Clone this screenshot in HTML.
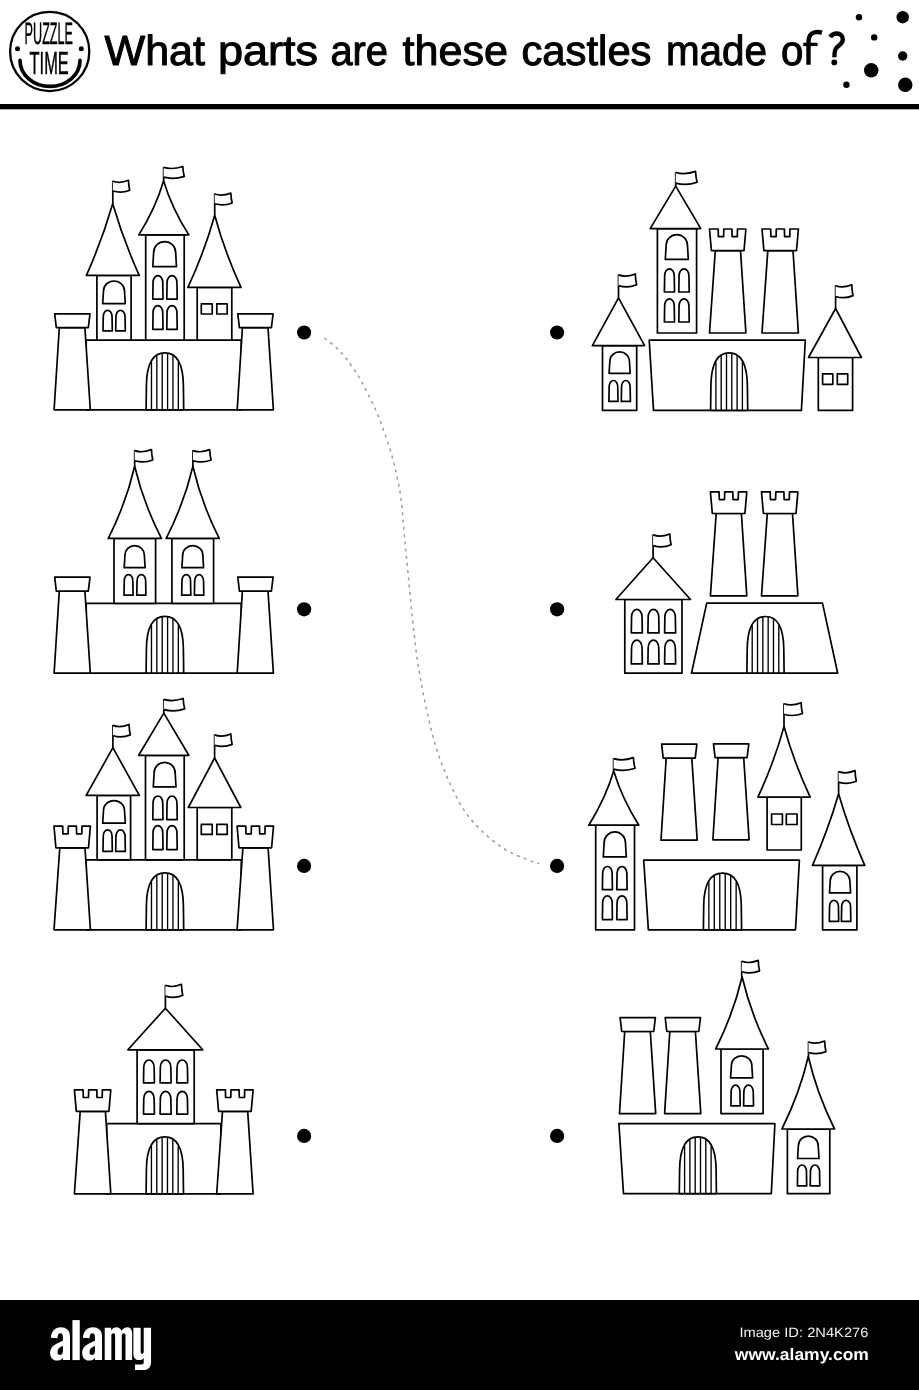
<!DOCTYPE html>
<html><head><meta charset="utf-8"><title>What parts are these castles made of?</title>
<style>
html,body{margin:0;padding:0;background:#fff;}
body{width:919px;height:1390px;overflow:hidden;position:relative;font-family:"Liberation Sans",sans-serif;}
svg{position:absolute;left:0;top:0;display:block;will-change:transform;}
text{-webkit-font-smoothing:antialiased;text-rendering:geometricPrecision;}
</style></head><body>
<svg width="919" height="1390" viewBox="0 0 919 1390" font-family="Liberation Sans, sans-serif">
<rect x="0" y="0" width="919" height="1390" fill="#fff"/>
<!-- header -->
<g id="logo">
<circle cx="49.7" cy="51.5" r="39.6" fill="#fff" stroke="#000" stroke-width="2.3"/>
<circle cx="17.5" cy="48.8" r="2.5" fill="#000"/><circle cx="81.3" cy="48.8" r="2.5" fill="#000"/>
<path d="M20,60.4 A30,26 0 0 0 80,60.4" fill="none" stroke="#000" stroke-width="3.7" stroke-linecap="round"/>
<g fill="#000" stroke="#000" stroke-width="0.5">
<text x="24.6" y="44.2" font-size="31" textLength="48.4" lengthAdjust="spacingAndGlyphs">PUZZLE</text>
<text x="29.6" y="74.2" font-size="32" textLength="39.2" lengthAdjust="spacingAndGlyphs">TIME</text>
</g>
</g>
<g font-size="42" fill="#000" stroke="#000" stroke-width="1.0" stroke-linejoin="round">
<text x="104.49" y="64.5" textLength="100.51" lengthAdjust="spacingAndGlyphs">What</text>
<text x="217.94" y="64.5" textLength="100.09" lengthAdjust="spacingAndGlyphs">parts</text>
<text x="330.47" y="64.5" textLength="57.55" lengthAdjust="spacingAndGlyphs">are</text>
<text x="402.49" y="64.5" textLength="105.51" lengthAdjust="spacingAndGlyphs">these</text>
<text x="521.48" y="64.5" textLength="130.05" lengthAdjust="spacingAndGlyphs">castles</text>
<text x="665.92" y="64.5" textLength="101.11" lengthAdjust="spacingAndGlyphs">made</text>
<text x="780.9" y="64.5" textLength="22.3" lengthAdjust="spacingAndGlyphs">o</text>
</g>
<g fill="none" stroke="#000" stroke-width="4.4" stroke-linecap="butt" stroke-linejoin="round">
<path d="M822,32.7 C819,31.8 816.5,31.9 814.5,32.3 C810.5,33.2 808.5,36.5 808.5,41.8 L808.5,64.8"/>
<path d="M803.3,44.4 L817.6,44.4" stroke-width="3.4"/>
<path d="M830.2,37 C832,34.2 834.5,33.5 836.8,33.5 C840.5,33.5 842.8,36 842.8,39.6 C842.8,43.5 839,45.5 836.6,47.6 C834.8,49.2 834.4,51 834.4,57.3"/>
</g>
<circle cx="834.3" cy="62.4" r="2.9" fill="#000"/>
<rect x="0" y="104" width="919" height="5.3" fill="#000"/>
<path d="M324.4,338 C326.35,339.58 332.52,344.12 336.1,347.5 C339.68,350.88 342.22,353.57 345.9,358.3 C349.58,363.03 354.42,369.72 358.2,375.9 C361.98,382.08 365.32,388.85 368.6,395.4 C371.88,401.95 375.1,408.52 377.9,415.2 C380.7,421.88 383.05,428.68 385.4,435.5 C387.75,442.32 390.07,449.18 392,456.1 C393.93,463.02 395.5,469.9 397,477 C398.5,484.1 399.66,487.78 401,498.7 C402.34,509.62 403.8,529.28 405.05,542.5 C406.3,555.72 407.34,566.03 408.5,578 C409.66,589.97 410.73,602.2 412,614.3 C413.27,626.4 414.8,640.48 416.1,650.6 C417.4,660.72 418.13,665.53 419.8,675 C421.47,684.47 423.6,696.05 426.1,707.4 C428.6,718.75 431.32,731.48 434.8,743.1 C438.28,754.72 442.22,766.07 447,777.1 C451.78,788.13 457.7,800.32 463.5,809.3 C469.3,818.28 474.97,824.38 481.8,831 C488.63,837.62 497.25,844.35 504.5,849 C511.75,853.65 519.5,856.47 525.3,858.9 C531.1,861.33 536.97,862.82 539.3,863.6" fill="none" stroke="#9c9c9c" stroke-width="1.5" stroke-dasharray="3 4.25"/>
<circle cx="304.1" cy="332.5" r="7.1" fill="#000" stroke="none"/>
<circle cx="557.1" cy="332.5" r="7.1" fill="#000" stroke="none"/>
<circle cx="304.1" cy="609.3" r="7.1" fill="#000" stroke="none"/>
<circle cx="557.1" cy="609.3" r="7.1" fill="#000" stroke="none"/>
<circle cx="304.1" cy="865.9" r="7.1" fill="#000" stroke="none"/>
<circle cx="557.1" cy="865.9" r="7.1" fill="#000" stroke="none"/>
<circle cx="304.1" cy="1135.9" r="7.1" fill="#000" stroke="none"/>
<circle cx="557.1" cy="1135.9" r="7.1" fill="#000" stroke="none"/>
<circle cx="859" cy="17.2" r="3.2" fill="#000" stroke="none"/>
<circle cx="902.7" cy="17.2" r="6.2" fill="#000" stroke="none"/>
<circle cx="874.2" cy="37.4" r="3.2" fill="#000" stroke="none"/>
<circle cx="902.7" cy="56" r="4.7" fill="#000" stroke="none"/>
<circle cx="871.2" cy="70.3" r="7.2" fill="#000" stroke="none"/>
<circle cx="846.4" cy="84.8" r="3.2" fill="#000" stroke="none"/>
<circle cx="905.3" cy="84.8" r="7.2" fill="#000" stroke="none"/>
<g fill="#fff" stroke="#000" stroke-width="1.7" stroke-linejoin="round" stroke-linecap="butt">
<polygon points="86.2,340.2 241.3,340.2 241.3,409.8 86.2,409.8"/>
<path d="M146.1,409.8 L146.4,385.9 C146.6,362.57 153.24,352.9 164.9,352.9 C176.56,352.9 183.2,362.57 183.4,385.9 L183.7,409.8 Z"/>
<line x1="151.47" y1="361.95" x2="151.47" y2="409.8" stroke-width="1.35"/>
<line x1="156.84" y1="355.43" x2="156.84" y2="409.8" stroke-width="1.35"/>
<line x1="162.21" y1="353.1" x2="162.21" y2="409.8" stroke-width="1.35"/>
<line x1="167.59" y1="353.1" x2="167.59" y2="409.8" stroke-width="1.35"/>
<line x1="172.96" y1="355.43" x2="172.96" y2="409.8" stroke-width="1.35"/>
<line x1="178.33" y1="361.95" x2="178.33" y2="409.8" stroke-width="1.35"/>
<rect x="96.9" y="275.4" width="34.2" height="64.8"/>
<path d="M112.7,203.8 Q123.15,239.6 139.2,275.4 L86.4,275.4 Q102.35,239.6 112.7,203.8 Z"/>
<line x1="112.8" y1="203.9" x2="112.8" y2="180.8"/>
<path d="M112.8,181.2 Q119.85,183.8 128.47,180.3 Q128.63,185.7 129.73,190.2 Q121.42,193.6 112.8,191"/>
<path d="M102.7,303.6 L103.51,290.72 A10.49,9.72 0 0 1 124.49,290.72 L125.3,303.6 Z"/>
<path d="M103,330.8 L103.25,316.62 C103.25,312.7 105.42,310.3 107.65,310.3 C109.88,310.3 112.05,312.7 112.05,316.62 L112.3,330.8 Z"/>
<path d="M115.7,330.8 L115.95,316.83 C115.95,312.78 118.2,310.3 120.5,310.3 C122.8,310.3 125.05,312.78 125.05,316.83 L125.3,330.8 Z"/>
<rect x="145.7" y="234.8" width="38.5" height="105.4"/>
<path d="M163.6,180.7 Q171.6,207.8 188.8,234.9 L138.8,234.9 Q155.8,207.8 163.6,180.7 Z"/>
<line x1="163.6" y1="180.7" x2="163.6" y2="167"/>
<path d="M163.6,167.4 Q172.24,170 182.79,166.5 Q182.98,171.9 184.33,176.4 Q174.15,179.8 163.6,177.2"/>
<path d="M152.8,266.7 L153.65,252.39 A11,10.79 0 0 1 175.65,252.39 L176.5,266.7 Z"/>
<path d="M152.8,299.1 L153.05,282.54 C153.05,278.24 155.45,275.6 157.9,275.6 C160.35,275.6 162.75,278.24 162.75,282.54 L163,299.1 Z"/>
<path d="M166.8,299.1 L167.05,282.67 C167.05,278.29 169.5,275.6 172,275.6 C174.5,275.6 176.95,278.29 176.95,282.67 L177.2,299.1 Z"/>
<path d="M152.8,329.3 L153.05,312.64 C153.05,308.34 155.45,305.7 157.9,305.7 C160.35,305.7 162.75,308.34 162.75,312.64 L163,329.3 Z"/>
<path d="M166.8,329.3 L167.05,312.77 C167.05,308.39 169.5,305.7 172,305.7 C174.5,305.7 176.95,308.39 176.95,312.77 L177.2,329.3 Z"/>
<rect x="197.2" y="287.4" width="34.6" height="52.8"/>
<path d="M214.7,215.2 Q224.45,251.3 241,287.4 L187.9,287.4 Q204.7,251.3 214.7,215.2 Z"/>
<line x1="214.7" y1="215.2" x2="214.7" y2="193.6"/>
<path d="M214.7,194 Q221.97,196.6 230.85,193.1 Q231.01,198.5 232.14,203 Q223.58,206.4 214.7,203.8"/>
<rect x="201.3" y="303.9" width="10.9" height="10.1"/>
<rect x="216.8" y="303.9" width="10.4" height="10.1"/>
<polygon points="59.3,327.7 84.9,327.7 90.3,409.8 54.1,409.8"/>
<polygon points="54.7,313.8 90,313.8 88.3,327.7 56.3,327.7"/>
<polygon points="242.4,327.7 268,327.7 273.4,409.8 237.2,409.8"/>
<polygon points="237.8,313.8 273.1,313.8 271.4,327.7 239.4,327.7"/>
<polygon points="86.2,603.4 241.3,603.4 241.3,673.2 86.2,673.2"/>
<path d="M146.1,673.2 L146.4,649.34 C146.6,626.06 153.24,616.4 164.9,616.4 C176.56,616.4 183.2,626.06 183.4,649.34 L183.7,673.2 Z"/>
<line x1="151.47" y1="625.44" x2="151.47" y2="673.2" stroke-width="1.35"/>
<line x1="156.84" y1="618.92" x2="156.84" y2="673.2" stroke-width="1.35"/>
<line x1="162.21" y1="616.59" x2="162.21" y2="673.2" stroke-width="1.35"/>
<line x1="167.59" y1="616.59" x2="167.59" y2="673.2" stroke-width="1.35"/>
<line x1="172.96" y1="618.92" x2="172.96" y2="673.2" stroke-width="1.35"/>
<line x1="178.33" y1="625.44" x2="178.33" y2="673.2" stroke-width="1.35"/>
<rect x="114" y="538.5" width="41.6" height="64.9"/>
<path d="M134.65,466.2 Q143.03,502.3 161.4,538.4 L108.3,538.4 Q126.47,502.3 134.65,466.2 Z"/>
<line x1="134.65" y1="466.2" x2="134.65" y2="450.2"/>
<path d="M134.65,450.6 Q142.22,453.3 151.47,449.66 Q151.63,455.28 152.81,459.96 Q143.9,463.5 134.65,460.79"/>
<path d="M124.2,567.7 L124.95,555.16 A9.7,9.46 0 0 1 144.35,555.16 L145.1,567.7 Z"/>
<path d="M124,595.2 L124.25,580.89 C124.25,577.05 126.37,574.7 128.55,574.7 C130.73,574.7 132.85,577.05 132.85,580.89 L133.1,595.2 Z"/>
<path d="M136.8,595.2 L137.05,580.89 C137.05,577.05 139.17,574.7 141.35,574.7 C143.53,574.7 145.65,577.05 145.65,580.89 L145.9,595.2 Z"/>
<rect x="171.9" y="538.5" width="41.7" height="64.9"/>
<path d="M192.9,466.2 Q201.05,502.3 219.2,538.4 L166.2,538.4 Q184.55,502.3 192.9,466.2 Z"/>
<line x1="192.9" y1="466.2" x2="192.9" y2="450.2"/>
<path d="M192.9,450.6 Q200.47,453.3 209.72,449.66 Q209.88,455.28 211.06,459.96 Q202.15,463.5 192.9,460.79"/>
<path d="M181.9,567.7 L182.68,555.16 A10.07,9.46 0 0 1 202.82,555.16 L203.6,567.7 Z"/>
<path d="M181.7,595.2 L181.95,580.89 C181.95,577.05 184.07,574.7 186.25,574.7 C188.43,574.7 190.55,577.05 190.55,580.89 L190.8,595.2 Z"/>
<path d="M194.4,595.2 L194.65,581.09 C194.65,577.13 196.84,574.7 199.1,574.7 C201.36,574.7 203.55,577.13 203.55,581.09 L203.8,595.2 Z"/>
<polygon points="59.3,591.1 84.9,591.1 90.3,673.2 54.1,673.2"/>
<polygon points="54.7,577.2 90,577.2 88.3,591.1 56.3,591.1"/>
<polygon points="242.4,591.1 268,591.1 273.4,673.2 237.2,673.2"/>
<polygon points="237.8,577.2 273.1,577.2 271.4,591.1 239.4,591.1"/>
<polygon points="86.2,859.8 241.3,859.8 241.3,929.8 86.2,929.8"/>
<path d="M146.1,929.8 L146.4,905.9 C146.6,882.57 153.24,872.9 164.9,872.9 C176.56,872.9 183.2,882.57 183.4,905.9 L183.7,929.8 Z"/>
<line x1="151.47" y1="881.95" x2="151.47" y2="929.8" stroke-width="1.35"/>
<line x1="156.84" y1="875.43" x2="156.84" y2="929.8" stroke-width="1.35"/>
<line x1="162.21" y1="873.1" x2="162.21" y2="929.8" stroke-width="1.35"/>
<line x1="167.59" y1="873.1" x2="167.59" y2="929.8" stroke-width="1.35"/>
<line x1="172.96" y1="875.43" x2="172.96" y2="929.8" stroke-width="1.35"/>
<line x1="178.33" y1="881.95" x2="178.33" y2="929.8" stroke-width="1.35"/>
<rect x="97.1" y="795.3" width="33.5" height="64.5"/>
<polygon points="112.9,747.7 139.3,795.3 86.2,795.3"/>
<line x1="112.9" y1="747.7" x2="112.9" y2="725"/>
<path d="M112.9,725.4 Q120.17,728.13 129.05,724.45 Q129.21,730.12 130.34,734.85 Q121.78,738.42 112.9,735.69"/>
<path d="M102.7,823.2 L103.51,810.32 A10.49,9.72 0 0 1 124.49,810.32 L125.3,823.2 Z"/>
<path d="M103,851.3 L103.25,836.22 C103.25,832.3 105.42,829.9 107.65,829.9 C109.88,829.9 112.05,832.3 112.05,836.22 L112.3,851.3 Z"/>
<path d="M115.7,851.3 L115.95,836.43 C115.95,832.38 118.2,829.9 120.5,829.9 C122.8,829.9 125.05,832.38 125.05,836.43 L125.3,851.3 Z"/>
<rect x="145.5" y="755.3" width="38.7" height="104.5"/>
<polygon points="163.8,713.1 188.8,755.3 138.7,755.3"/>
<line x1="163.8" y1="713.1" x2="163.8" y2="699"/>
<path d="M163.8,699.4 Q172.52,702.13 183.18,698.45 Q183.37,704.12 184.73,708.85 Q174.46,712.42 163.8,709.69"/>
<path d="M153.3,786.9 L154.12,772.88 A10.53,10.58 0 0 1 175.18,772.88 L176,786.9 Z"/>
<path d="M152.8,819.6 L153.05,802.94 C153.05,798.64 155.45,796 157.9,796 C160.35,796 162.75,798.64 162.75,802.94 L163,819.6 Z"/>
<path d="M166.8,819.6 L167.05,803.07 C167.05,798.69 169.5,796 172,796 C174.5,796 176.95,798.69 176.95,803.07 L177.2,819.6 Z"/>
<path d="M152.8,849.6 L153.05,832.54 C153.05,828.24 155.45,825.6 157.9,825.6 C160.35,825.6 162.75,828.24 162.75,832.54 L163,849.6 Z"/>
<path d="M166.8,849.6 L167.05,832.67 C167.05,828.29 169.5,825.6 172,825.6 C174.5,825.6 176.95,828.29 176.95,832.67 L177.2,849.6 Z"/>
<rect x="197.2" y="807.5" width="34.6" height="52.3"/>
<polygon points="214.6,758 240.8,807.5 188.3,807.5"/>
<line x1="214.6" y1="758" x2="214.6" y2="734.5"/>
<path d="M214.6,734.9 Q221.91,737.63 230.84,733.95 Q231.01,739.62 232.14,744.35 Q223.53,747.92 214.6,745.19"/>
<rect x="201.3" y="824.3" width="10.9" height="10.1"/>
<rect x="216.8" y="824.3" width="10.4" height="10.1"/>
<polygon points="59.8,847.8 85,847.8 90.4,929.8 54,929.8"/>
<polygon points="54,826.2 62.7,826.2 62.9,833.9 68.1,833.9 68.3,826.2 76.4,826.2 76.6,833.9 81.8,833.9 82,826.2 90.4,826.2 88.5,847.8 55.9,847.8"/>
<polygon points="242.9,847.8 268.1,847.8 273.5,929.8 237.1,929.8"/>
<polygon points="237.1,826.2 245.8,826.2 246,833.9 251.2,833.9 251.4,826.2 259.5,826.2 259.7,833.9 264.9,833.9 265.1,826.2 273.5,826.2 271.6,847.8 239,847.8"/>
<polygon points="106.6,1123.6 220.9,1123.6 220.9,1193.8 106.6,1193.8"/>
<path d="M146.1,1193.8 L146.4,1169.9 C146.6,1146.57 153.21,1136.9 164.8,1136.9 C176.39,1136.9 183,1146.57 183.2,1169.9 L183.5,1193.8 Z"/>
<line x1="151.44" y1="1145.95" x2="151.44" y2="1193.8" stroke-width="1.35"/>
<line x1="156.79" y1="1139.43" x2="156.79" y2="1193.8" stroke-width="1.35"/>
<line x1="162.13" y1="1137.1" x2="162.13" y2="1193.8" stroke-width="1.35"/>
<line x1="167.47" y1="1137.1" x2="167.47" y2="1193.8" stroke-width="1.35"/>
<line x1="172.81" y1="1139.43" x2="172.81" y2="1193.8" stroke-width="1.35"/>
<line x1="178.16" y1="1145.95" x2="178.16" y2="1193.8" stroke-width="1.35"/>
<rect x="137.1" y="1049.8" width="57.1" height="73.8"/>
<polygon points="165.4,1008.2 202.7,1049.8 127.9,1049.8"/>
<line x1="165.4" y1="1008.2" x2="165.4" y2="984.9"/>
<path d="M165.4,985.3 Q172.62,988.16 181.46,984.31 Q181.62,990.25 182.74,995.2 Q174.23,998.94 165.4,996.08"/>
<path d="M143.5,1082.8 L143.75,1067.41 C143.75,1062.82 146.33,1060 148.95,1060 C151.57,1060 154.15,1062.82 154.15,1067.41 L154.4,1082.8 Z"/>
<path d="M160.1,1082.8 L160.35,1067.48 C160.35,1062.84 162.96,1060 165.6,1060 C168.24,1060 170.85,1062.84 170.85,1067.48 L171.1,1082.8 Z"/>
<path d="M176.8,1082.8 L177.05,1067.41 C177.05,1062.82 179.63,1060 182.25,1060 C184.87,1060 187.45,1062.82 187.45,1067.41 L187.7,1082.8 Z"/>
<path d="M143.5,1114.1 L143.75,1098.81 C143.75,1094.22 146.33,1091.4 148.95,1091.4 C151.57,1091.4 154.15,1094.22 154.15,1098.81 L154.4,1114.1 Z"/>
<path d="M160.1,1114.1 L160.35,1098.88 C160.35,1094.24 162.96,1091.4 165.6,1091.4 C168.24,1091.4 170.85,1094.24 170.85,1098.88 L171.1,1114.1 Z"/>
<path d="M176.8,1114.1 L177.05,1098.81 C177.05,1094.22 179.63,1091.4 182.25,1091.4 C184.87,1091.4 187.45,1094.22 187.45,1098.81 L187.7,1114.1 Z"/>
<polygon points="80.2,1111.4 105.4,1111.4 110.8,1193.8 74.4,1193.8"/>
<polygon points="74.4,1089.8 83.1,1089.8 83.3,1097.5 88.5,1097.5 88.7,1089.8 96.8,1089.8 97,1097.5 102.2,1097.5 102.4,1089.8 110.8,1089.8 108.9,1111.4 76.3,1111.4"/>
<polygon points="222.5,1111.4 247.7,1111.4 253.1,1193.8 216.7,1193.8"/>
<polygon points="216.7,1089.8 225.4,1089.8 225.6,1097.5 230.8,1097.5 231,1089.8 239.1,1089.8 239.3,1097.5 244.5,1097.5 244.7,1089.8 253.1,1089.8 251.2,1111.4 218.6,1111.4"/>
<rect x="602.5" y="345.7" width="34.2" height="64.7"/>
<polygon points="618.5,297.8 644.6,345.7 592.4,345.7"/>
<line x1="618.5" y1="297.8" x2="618.5" y2="274.5"/>
<path d="M618.5,274.9 Q626.07,277.76 635.32,273.91 Q635.48,279.85 636.66,284.8 Q627.75,288.54 618.5,285.68"/>
<path d="M609.1,373.3 L609.86,361.05 A9.79,9.24 0 0 1 629.44,361.05 L630.2,373.3 Z"/>
<path d="M608.9,401.4 L609.15,386.69 C609.15,382.85 611.27,380.5 613.45,380.5 C615.63,380.5 617.75,382.85 617.75,386.69 L618,401.4 Z"/>
<path d="M621.3,401.4 L621.55,386.69 C621.55,382.85 623.67,380.5 625.85,380.5 C628.03,380.5 630.15,382.85 630.15,386.69 L630.4,401.4 Z"/>
<rect x="657.4" y="228.6" width="39.2" height="104.4"/>
<polygon points="675.7,186.1 700.8,228.6 650.2,228.6"/>
<line x1="675.7" y1="186.1" x2="675.7" y2="172"/>
<path d="M675.7,172.4 Q684.63,175.26 695.56,171.41 Q695.75,177.35 697.14,182.3 Q686.62,186.04 675.7,183.18"/>
<path d="M665.3,259.4 L666.13,245.26 A10.67,10.66 0 0 1 687.47,245.26 L688.3,259.4 Z"/>
<path d="M664.4,292 L664.65,275.77 C664.65,271.51 667.03,268.9 669.45,268.9 C671.87,268.9 674.25,271.51 674.25,275.77 L674.5,292 Z"/>
<path d="M678.8,292 L679.05,275.97 C679.05,271.59 681.5,268.9 684,268.9 C686.5,268.9 688.95,271.59 688.95,275.97 L689.2,292 Z"/>
<path d="M664.4,322 L664.65,305.77 C664.65,301.51 667.03,298.9 669.45,298.9 C671.87,298.9 674.25,301.51 674.25,305.77 L674.5,322 Z"/>
<path d="M678.8,322 L679.05,305.97 C679.05,301.59 681.5,298.9 684,298.9 C686.5,298.9 688.95,301.59 688.95,305.97 L689.2,322 Z"/>
<polygon points="715.3,250.6 740.5,250.6 745.9,333 709.5,333"/>
<polygon points="709.5,229 718.2,229 718.4,236.7 723.6,236.7 723.8,229 731.9,229 732.1,236.7 737.3,236.7 737.5,229 745.9,229 744,250.6 711.4,250.6"/>
<polygon points="767.8,250.6 793,250.6 798.4,333 762,333"/>
<polygon points="762,229 770.7,229 770.9,236.7 776.1,236.7 776.3,229 784.4,229 784.6,236.7 789.8,236.7 790,229 798.4,229 796.5,250.6 763.9,250.6"/>
<polygon points="649.2,340.2 805.3,340.2 801.4,410.4 653.5,410.4"/>
<path d="M710.6,410.4 L710.9,386.25 C711.1,362.68 717.65,352.9 729.15,352.9 C740.65,352.9 747.2,362.68 747.4,386.25 L747.7,410.4 Z"/>
<line x1="715.9" y1="362.05" x2="715.9" y2="410.4" stroke-width="1.35"/>
<line x1="721.2" y1="355.45" x2="721.2" y2="410.4" stroke-width="1.35"/>
<line x1="726.5" y1="353.1" x2="726.5" y2="410.4" stroke-width="1.35"/>
<line x1="731.8" y1="353.1" x2="731.8" y2="410.4" stroke-width="1.35"/>
<line x1="737.1" y1="355.45" x2="737.1" y2="410.4" stroke-width="1.35"/>
<line x1="742.4" y1="362.05" x2="742.4" y2="410.4" stroke-width="1.35"/>
<rect x="818.3" y="357.5" width="34.3" height="52.9"/>
<polygon points="835.6,308.5 861.4,357.5 808.5,357.5"/>
<line x1="835.6" y1="308.5" x2="835.6" y2="285.3"/>
<path d="M835.6,285.7 Q842.87,288.56 851.75,284.71 Q851.91,290.65 853.04,295.6 Q844.48,299.34 835.6,296.48"/>
<rect x="822.6" y="373.8" width="10.2" height="10.5"/>
<rect x="837.3" y="373.8" width="10.4" height="10.5"/>
<polygon points="716.2,513.5 741.4,513.5 746.8,595.9 710.4,595.9"/>
<polygon points="710.4,491.9 719.1,491.9 719.3,499.6 724.5,499.6 724.7,491.9 732.8,491.9 733,499.6 738.2,499.6 738.4,491.9 746.8,491.9 744.9,513.5 712.3,513.5"/>
<polygon points="767.3,513.5 792.5,513.5 797.9,595.9 761.5,595.9"/>
<polygon points="761.5,491.9 770.2,491.9 770.4,499.6 775.6,499.6 775.8,491.9 783.9,491.9 784.1,499.6 789.3,499.6 789.5,491.9 797.9,491.9 796,513.5 763.4,513.5"/>
<rect x="624.8" y="599.5" width="57.2" height="73.7"/>
<polygon points="653.1,557.8 690.5,599.5 615.9,599.5"/>
<line x1="653.1" y1="557.8" x2="653.1" y2="534.5"/>
<path d="M653.1,534.9 Q660.62,537.76 669.82,533.91 Q669.99,539.85 671.16,544.8 Q662.3,548.54 653.1,545.68"/>
<path d="M631.3,632.8 L631.55,616.88 C631.55,612.24 634.16,609.4 636.8,609.4 C639.44,609.4 642.05,612.24 642.05,616.88 L642.3,632.8 Z"/>
<path d="M647.9,632.8 L648.15,616.95 C648.15,612.27 650.79,609.4 653.45,609.4 C656.11,609.4 658.75,612.27 658.75,616.95 L659,632.8 Z"/>
<path d="M664.6,632.8 L664.85,616.88 C664.85,612.24 667.46,609.4 670.1,609.4 C672.74,609.4 675.35,612.24 675.35,616.88 L675.6,632.8 Z"/>
<path d="M631.3,663.9 L631.55,647.68 C631.55,643.04 634.16,640.2 636.8,640.2 C639.44,640.2 642.05,643.04 642.05,647.68 L642.3,663.9 Z"/>
<path d="M647.9,663.9 L648.15,647.75 C648.15,643.07 650.79,640.2 653.45,640.2 C656.11,640.2 658.75,643.07 658.75,647.75 L659,663.9 Z"/>
<path d="M664.6,663.9 L664.85,647.68 C664.85,643.04 667.46,640.2 670.1,640.2 C672.74,640.2 675.35,643.04 675.35,647.68 L675.6,663.9 Z"/>
<polygon points="706.7,603.1 822.5,603.1 837.7,673.2 691.5,673.2"/>
<path d="M746.9,673.2 L747.2,649.39 C747.4,626.14 753.97,616.5 765.5,616.5 C777.03,616.5 783.6,626.14 783.8,649.39 L784.1,673.2 Z"/>
<line x1="752.21" y1="625.52" x2="752.21" y2="673.2" stroke-width="1.35"/>
<line x1="757.53" y1="619.02" x2="757.53" y2="673.2" stroke-width="1.35"/>
<line x1="762.84" y1="616.69" x2="762.84" y2="673.2" stroke-width="1.35"/>
<line x1="768.16" y1="616.69" x2="768.16" y2="673.2" stroke-width="1.35"/>
<line x1="773.47" y1="619.02" x2="773.47" y2="673.2" stroke-width="1.35"/>
<line x1="778.79" y1="625.52" x2="778.79" y2="673.2" stroke-width="1.35"/>
<rect x="595.7" y="824.8" width="38.8" height="105.1"/>
<path d="M613.7,771 Q621.85,798.1 638.8,825.2 L588.8,825.2 Q605.65,798.1 613.7,771 Z"/>
<line x1="613.6" y1="771.6" x2="613.6" y2="758.2"/>
<path d="M613.6,758.6 Q622.53,761.38 633.46,757.64 Q633.65,763.42 635.04,768.23 Q624.52,771.87 613.6,769.09"/>
<path d="M603.3,856.9 L604.13,842.65 A10.67,10.75 0 0 1 625.47,842.65 L626.3,856.9 Z"/>
<path d="M602.4,889.6 L602.65,873.3 C602.65,869.08 605,866.5 607.4,866.5 C609.8,866.5 612.15,869.08 612.15,873.3 L612.4,889.6 Z"/>
<path d="M616.8,889.6 L617.05,873.5 C617.05,869.16 619.48,866.5 621.95,866.5 C624.42,866.5 626.85,869.16 626.85,873.5 L627.1,889.6 Z"/>
<path d="M602.4,919.6 L602.65,902.7 C602.65,898.48 605,895.9 607.4,895.9 C609.8,895.9 612.15,898.48 612.15,902.7 L612.4,919.6 Z"/>
<path d="M616.8,919.6 L617.05,902.9 C617.05,898.56 619.48,895.9 621.95,895.9 C624.42,895.9 626.85,898.56 626.85,902.9 L627.1,919.6 Z"/>
<polygon points="666.2,758.1 691.8,758.1 697.2,840.2 661,840.2"/>
<polygon points="661.6,744.2 696.9,744.2 695.2,758.1 663.2,758.1"/>
<polygon points="718.1,757.7 743.7,757.7 749.1,839.8 712.9,839.8"/>
<polygon points="713.5,743.8 748.8,743.8 747.1,757.7 715.1,757.7"/>
<rect x="767.1" y="797.1" width="34.2" height="52.9"/>
<path d="M784,726.6 Q793.7,761.85 810.2,797.1 L757.9,797.1 Q774.35,761.85 784,726.6 Z"/>
<line x1="784" y1="726.6" x2="784" y2="703.3"/>
<path d="M784,703.7 Q791.7,706.51 801.1,702.73 Q801.27,708.56 802.47,713.42 Q793.4,717.09 784,714.28"/>
<rect x="771.6" y="814" width="10.8" height="10.5"/>
<rect x="786.3" y="814" width="10.8" height="10.5"/>
<polygon points="643.7,860.2 799.4,860.2 795.5,929.9 648.4,929.9"/>
<path d="M703.4,929.9 L703.7,906.04 C703.9,882.76 710.66,873.1 722.5,873.1 C734.34,873.1 741.1,882.76 741.3,906.04 L741.6,929.9 Z"/>
<line x1="708.86" y1="882.14" x2="708.86" y2="929.9" stroke-width="1.35"/>
<line x1="714.31" y1="875.62" x2="714.31" y2="929.9" stroke-width="1.35"/>
<line x1="719.77" y1="873.29" x2="719.77" y2="929.9" stroke-width="1.35"/>
<line x1="725.23" y1="873.29" x2="725.23" y2="929.9" stroke-width="1.35"/>
<line x1="730.69" y1="875.62" x2="730.69" y2="929.9" stroke-width="1.35"/>
<line x1="736.14" y1="882.14" x2="736.14" y2="929.9" stroke-width="1.35"/>
<rect x="822.6" y="865.3" width="34.3" height="64.6"/>
<path d="M838.6,793.8 Q848.85,829.55 864.7,865.3 L812.5,865.3 Q828.35,829.55 838.6,793.8 Z"/>
<line x1="838.6" y1="793.8" x2="838.6" y2="771.2"/>
<path d="M838.6,771.6 Q846,774.41 855.03,770.63 Q855.2,776.46 856.35,781.32 Q847.64,784.99 838.6,782.18"/>
<path d="M829.5,892.8 L830.26,880.6 A9.79,9.2 0 0 1 849.84,880.6 L850.6,892.8 Z"/>
<path d="M829.3,921.3 L829.55,906.79 C829.55,902.83 831.74,900.4 834,900.4 C836.26,900.4 838.45,902.83 838.45,906.79 L838.7,921.3 Z"/>
<path d="M841.4,921.3 L841.65,906.79 C841.65,902.83 843.84,900.4 846.1,900.4 C848.36,900.4 850.55,902.83 850.55,906.79 L850.8,921.3 Z"/>
<polygon points="624.7,1031.5 650.3,1031.5 655.7,1113.6 619.5,1113.6"/>
<polygon points="620.1,1017.6 655.4,1017.6 653.7,1031.5 621.7,1031.5"/>
<polygon points="669.8,1031.5 695.4,1031.5 700.8,1113.6 664.6,1113.6"/>
<polygon points="665.2,1017.6 700.5,1017.6 698.8,1031.5 666.8,1031.5"/>
<rect x="721" y="1049" width="42.1" height="64.6"/>
<path d="M742.1,976.8 Q750.45,1012.9 768.4,1049 L715.7,1049 Q733.7,1012.9 742.1,976.8 Z"/>
<line x1="741.7" y1="976.8" x2="741.7" y2="960.9"/>
<path d="M741.7,961.3 Q749.14,964.06 758.23,960.35 Q758.4,966.07 759.55,970.84 Q750.79,974.44 741.7,971.69"/>
<path d="M730.6,1077.8 L731.39,1065.32 A10.21,9.42 0 0 1 751.81,1065.32 L752.6,1077.8 Z"/>
<path d="M730.9,1105.8 L731.15,1091.52 C731.15,1087.6 733.32,1085.2 735.55,1085.2 C737.78,1085.2 739.95,1087.6 739.95,1091.52 L740.2,1105.8 Z"/>
<path d="M743.6,1105.8 L743.85,1091.93 C743.85,1087.76 746.17,1085.2 748.55,1085.2 C750.93,1085.2 753.25,1087.76 753.25,1091.93 L753.5,1105.8 Z"/>
<polygon points="618.9,1123.7 774.9,1123.7 771.3,1193.7 623.5,1193.7"/>
<path d="M679.3,1193.7 L679.6,1169.8 C679.8,1146.47 686.35,1136.8 697.85,1136.8 C709.35,1136.8 715.9,1146.47 716.1,1169.8 L716.4,1193.7 Z"/>
<line x1="684.6" y1="1145.85" x2="684.6" y2="1193.7" stroke-width="1.35"/>
<line x1="689.9" y1="1139.33" x2="689.9" y2="1193.7" stroke-width="1.35"/>
<line x1="695.2" y1="1137" x2="695.2" y2="1193.7" stroke-width="1.35"/>
<line x1="700.5" y1="1137" x2="700.5" y2="1193.7" stroke-width="1.35"/>
<line x1="705.8" y1="1139.33" x2="705.8" y2="1193.7" stroke-width="1.35"/>
<line x1="711.1" y1="1145.85" x2="711.1" y2="1193.7" stroke-width="1.35"/>
<rect x="787.4" y="1129.2" width="42.4" height="64.5"/>
<path d="M808.3,1056.5 Q816.6,1092.75 834.5,1129 L781.9,1129 Q799.9,1092.75 808.3,1056.5 Z"/>
<line x1="808.5" y1="1056.6" x2="808.5" y2="1041.6"/>
<path d="M808.5,1042 Q815.77,1044.78 824.65,1041.04 Q824.81,1046.82 825.94,1051.63 Q817.38,1055.27 808.5,1052.49"/>
<path d="M797.6,1158.5 L798.37,1145.73 A9.93,9.63 0 0 1 818.23,1145.73 L819,1158.5 Z"/>
<path d="M797.4,1185.9 L797.65,1171.32 C797.65,1167.4 799.82,1165 802.05,1165 C804.28,1165 806.45,1167.4 806.45,1171.32 L806.7,1185.9 Z"/>
<path d="M810.2,1185.9 L810.45,1171.53 C810.45,1167.48 812.7,1165 815,1165 C817.3,1165 819.55,1167.48 819.55,1171.53 L819.8,1185.9 Z"/>
</g>
<!-- footer -->
<rect x="0" y="1300" width="919" height="90" fill="#000"/>
<g transform="translate(45,1315) scale(0.12188)">
<g fill="#fff">
<!-- a1 -->
<path d="M48,186 C52,130 85,100 128,100 C178,100 205,128 205,175 L205,370 L147,370 L147,352 C135,366 118,374 98,374 C62,374 42,348 42,312 C42,262 80,238 147,212 L147,180 C147,160 140,150 126,150 C110,150 104,162 102,190 Z"/>
<!-- l -->
<rect x="225" y="42" width="60" height="328"/>
<!-- a2 -->
<path transform="translate(263,0)" d="M48,186 C52,130 85,100 128,100 C178,100 205,128 205,175 L205,370 L147,370 L147,352 C135,366 118,374 98,374 C62,374 42,348 42,312 C42,262 80,238 147,212 L147,180 C147,160 140,150 126,150 C110,150 104,162 102,190 Z"/>
<!-- m -->
<path d="M490,105 L548,105 L548,128 C560,108 578,100 596,100 C618,100 634,110 642,130 C656,110 674,100 694,100 C720,100 738,118 738,150 L738,370 L678,370 L678,168 C678,156 672,150 663,150 C652,150 644,158 644,172 L644,370 L584,370 L584,168 C584,156 578,150 569,150 C558,150 550,158 550,172 L550,370 L490,370 Z" transform="translate(490,0) scale(0.907,1) translate(-490,0)"/>
<!-- y -->
<path d="M725,105 L785,105 L785,300 C785,314 790,320 798,320 C806,320 810,314 810,300 L810,105 L870,105 L870,385 C870,430 845,452 800,452 L738,452 L738,406 L790,406 C804,406 810,400 810,388 L810,352 C800,364 788,370 772,370 C742,370 725,352 725,318 Z"/>
</g>
<g fill="#000">
<path d="M147,252 C118,264 102,280 102,304 C102,320 110,328 122,328 C138,328 147,316 147,298 Z"/>
<path transform="translate(263,0)" d="M147,252 C118,264 102,280 102,304 C102,320 110,328 122,328 C138,328 147,316 147,298 Z"/>
</g>
</g>
<text x="739.4" y="1336.8" font-size="13.6" fill="#f2f2f2" textLength="129" lengthAdjust="spacingAndGlyphs">Image ID: 2N4K276</text>
<text x="734.8" y="1360.3" font-size="16.6" font-weight="bold" fill="#fff" textLength="134.1" lengthAdjust="spacingAndGlyphs">www.alamy.com</text>
</svg>
</body></html>
